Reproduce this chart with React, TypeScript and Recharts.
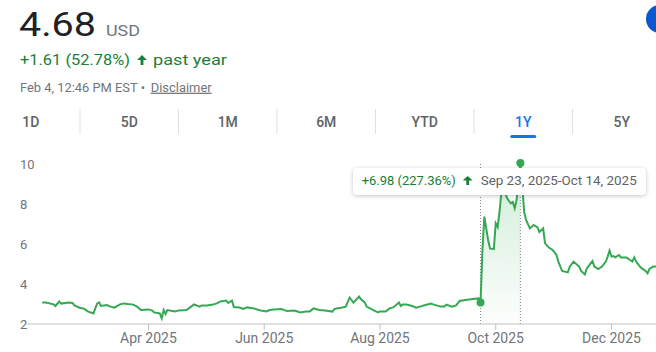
import React from "react";
import {
  ComposedChart,
  Line,
  Area,
  XAxis,
  YAxis,
  ReferenceLine,
  ReferenceDot,
} from "recharts";

// daily closes
const dates = [
  "2025-02-04", "2025-02-06", "2025-02-10", "2025-02-11", "2025-02-13", "2025-02-14",
  "2025-02-18", "2025-02-20", "2025-02-21", "2025-02-24", "2025-02-26", "2025-02-28",
  "2025-03-03", "2025-03-04", "2025-03-05", "2025-03-06", "2025-03-07", "2025-03-10",
  "2025-03-12", "2025-03-14", "2025-03-17", "2025-03-19", "2025-03-21", "2025-03-24",
  "2025-03-26", "2025-03-28", "2025-04-01", "2025-04-03", "2025-04-04", "2025-04-07",
  "2025-04-08", "2025-04-09", "2025-04-10", "2025-04-11", "2025-04-15", "2025-04-17",
  "2025-04-21", "2025-04-23", "2025-04-25", "2025-04-28", "2025-04-29", "2025-05-02",
  "2025-05-05", "2025-05-07", "2025-05-09", "2025-05-12", "2025-05-13", "2025-05-15",
  "2025-05-16", "2025-05-19", "2025-05-21", "2025-05-23", "2025-05-27", "2025-05-29",
  "2025-06-02", "2025-06-04", "2025-06-06", "2025-06-10", "2025-06-12", "2025-06-13",
  "2025-06-17", "2025-06-20", "2025-06-23", "2025-06-25", "2025-06-27", "2025-06-30",
  "2025-07-03", "2025-07-07", "2025-07-08", "2025-07-09", "2025-07-11", "2025-07-14",
  "2025-07-16", "2025-07-17", "2025-07-18", "2025-07-21", "2025-07-22", "2025-07-24",
  "2025-07-25", "2025-07-29", "2025-07-31", "2025-08-01", "2025-08-04", "2025-08-06",
  "2025-08-08", "2025-08-11", "2025-08-12", "2025-08-13", "2025-08-15", "2025-08-18",
  "2025-08-20", "2025-08-22", "2025-08-25", "2025-08-28", "2025-08-29", "2025-09-02",
  "2025-09-04", "2025-09-05", "2025-09-08", "2025-09-10", "2025-09-12", "2025-09-15",
  "2025-09-17", "2025-09-19", "2025-09-22", "2025-09-23", "2025-09-24", "2025-09-25",
  "2025-09-27", "2025-09-28", "2025-09-30", "2025-10-01", "2025-10-02", "2025-10-03",
  "2025-10-04", "2025-10-05", "2025-10-06", "2025-10-07", "2025-10-08", "2025-10-09",
  "2025-10-10", "2025-10-11", "2025-10-12", "2025-10-13", "2025-10-14", "2025-10-15",
  "2025-10-16", "2025-10-17", "2025-10-19", "2025-10-21", "2025-10-23", "2025-10-24",
  "2025-10-26", "2025-10-27", "2025-10-29", "2025-10-31", "2025-11-02", "2025-11-03",
  "2025-11-05", "2025-11-08", "2025-11-09", "2025-11-11", "2025-11-13", "2025-11-14",
  "2025-11-15", "2025-11-17", "2025-11-18", "2025-11-20", "2025-11-21", "2025-11-22",
  "2025-11-24", "2025-11-26", "2025-11-28", "2025-11-29", "2025-11-30", "2025-12-01",
  "2025-12-02", "2025-12-03", "2025-12-05", "2025-12-06", "2025-12-09", "2025-12-10",
  "2025-12-12", "2025-12-13", "2025-12-14", "2025-12-16", "2025-12-17", "2025-12-19",
  "2025-12-20", "2025-12-21", "2025-12-23", "2025-12-24", "2026-02-04",
];

const prices = [
  3.07, 3.07, 2.98, 2.9, 3.12, 3.02,
  3.08, 3.05, 2.93, 2.8, 2.77, 2.63,
  2.53, 2.78, 3.03, 3.08, 2.9, 2.95,
  2.87, 2.82, 2.98, 3.03, 3.0, 2.97,
  2.87, 2.7, 2.73, 2.67, 2.58, 2.53,
  2.28, 2.7, 2.5, 2.7, 2.63, 2.68,
  2.7, 2.83, 2.98, 2.87, 2.93, 2.92,
  2.97, 3.03, 3.13, 3.17, 3.05, 3.17,
  2.85, 2.82, 2.75, 2.83, 2.77, 2.7,
  2.63, 2.7, 2.73, 2.75, 2.68, 2.65,
  2.67, 2.58, 2.62, 2.63, 2.78, 2.7,
  2.67, 2.62, 2.75, 2.78, 2.8, 2.87,
  3.32, 3.2, 3.07, 3.37, 3.23, 3.08,
  2.87, 2.67, 2.58, 2.63, 2.62, 2.78,
  2.83, 3.07, 2.9, 2.98, 2.97, 2.9,
  2.82, 2.87, 2.95, 3.02, 2.98, 2.87,
  2.87, 2.97, 2.87, 2.92, 3.15, 3.2,
  3.23, 3.25, 3.28, 3.07, 5.7, 7.37,
  6.2, 5.78, 5.75, 7.03, 6.85, 7.6,
  8.6, 9.4, 8.53, 8.3, 8.15, 8.03,
  8.1, 7.78, 8.2, 9.2, 10.05, 8.9,
  7.6, 7.2, 6.78, 6.95, 6.83, 6.6,
  6.78, 6.03, 5.82, 5.7, 5.45, 5.12,
  4.65, 4.58, 4.87, 5.12, 4.95, 4.87,
  4.65, 4.48, 4.78, 5.03, 5.15, 4.87,
  4.75, 4.87, 5.12, 5.37, 5.67, 5.37,
  5.4, 5.33, 5.45, 5.33, 5.32, 5.25,
  5.12, 5.33, 5.12, 4.87, 4.78, 4.65,
  4.53, 4.75, 4.87, 4.87, 4.68,
];

const xDomainDates = ["2025-01-27", "2026-02-12"];
const xTickDates = ["2025-04-01", "2025-06-01", "2025-08-01", "2025-10-01", "2025-12-01"];
const xTickLabels = ["Apr 2025", "Jun 2025", "Aug 2025", "Oct 2025", "Dec 2025"];
const yTicks = [2, 4, 6, 8, 10];

const rangeStart = "2025-09-23";
const rangeEnd = "2025-10-14";

const tabs = ["1D", "5D", "1M", "6M", "YTD", "1Y", "5Y"];
const activeTab = "1Y";

const yearChange = "+1.61 (52.78%)";
const timestamp = "Feb 4, 12:46 PM EST •";

const GREEN = "#34a853";
const TEXT_GREEN = "#188038";
const GREY = "#70757a";
const BLUE = "#1a73e8";
const MONTHS = ["Jan", "Feb", "Mar", "Apr", "May", "Jun", "Jul", "Aug", "Sep", "Oct", "Nov", "Dec"];

const ts = (s: string) => Date.parse(s);
const fmtDate = (s: string) => {
  const d = new Date(ts(s));
  return `${MONTHS[d.getUTCMonth()]} ${d.getUTCDate()}, ${d.getUTCFullYear()}`;
};

const data = dates.map((d, i) => ({
  t: ts(d),
  price: prices[i],
  sel: ts(d) >= ts(rangeStart) && ts(d) <= ts(rangeEnd) ? prices[i] : null,
}));

const startPrice = prices[dates.indexOf(rangeStart)];
const endPrice = prices[dates.indexOf(rangeEnd)];
const diff = endPrice - startPrice;
const diffLabel = `+${diff.toFixed(2)} (${((diff / startPrice) * 100).toFixed(2)}%)`;
const rangeLabel = `${fmtDate(rangeStart)}-${fmtDate(rangeEnd)}`;
const lastPrice = prices[prices.length - 1].toFixed(2);

const ARROW = "M5 0 L10 5 L6.4 5 L6.4 10 L3.6 10 L3.6 5 L0 5 Z";
const FIT = "spacingAndGlyphs";

const YTick = (props: any) => (
  <text x={20} y={props.y} dy="0.355em" fill={GREY} fontSize={13} fontFamily="Roboto">
    {props.payload.value}
  </text>
);

export default function App() {
  const tabW = 98.5;
  const tab0 = -18.5;
  return (
    <div
      style={{
        position: "fixed",
        left: 0,
        top: 0,
        width: 656,
        height: 352,
        overflow: "hidden",
        background: "#fff",
        fontFamily: "Roboto, sans-serif",
      }}
    >
      <div style={{ position: "absolute", left: 0, top: 150 }}>
        <ComposedChart
          width={750}
          height={202}
          data={data}
          margin={{ top: 13, right: 0, bottom: 0, left: 0 }}
        >
          <defs>
            <linearGradient id="selFill" x1="0" y1="0" x2="0" y2="1">
              <stop offset="0%" stopColor={GREEN} stopOpacity={0.38} />
              <stop offset="100%" stopColor={GREEN} stopOpacity={0.02} />
            </linearGradient>
          </defs>
          <XAxis
            dataKey="t"
            type="number"
            domain={xDomainDates.map(ts)}
            ticks={xTickDates.map(ts)}
            tickFormatter={(v) => xTickLabels[xTickDates.map(ts).indexOf(v)]}
            interval={0}
            height={28}
            tickSize={6}
            tickMargin={3}
            axisLine={{ stroke: "#bdc1c6" }}
            tickLine={{ stroke: "#bdc1c6" }}
            tick={{ fill: GREY, fontSize: 14, fontFamily: "Roboto" }}
          />
          <YAxis
            type="number"
            domain={[2, "dataMax"]}
            ticks={yTicks}
            width={27}
            axisLine={false}
            tickLine={false}
            tick={<YTick />}
          />
          <Area
            type="linear"
            dataKey="sel"
            stroke="none"
            fill="url(#selFill)"
            connectNulls={false}
            dot={false}
            activeDot={false}
            isAnimationActive={false}
          />
          <ReferenceLine x={ts(rangeStart)} stroke="#80868b" strokeDasharray="1 2" />
          <ReferenceLine x={ts(rangeEnd)} stroke="#80868b" strokeDasharray="1 2" />
          <Line
            type="linear"
            dataKey="price"
            stroke={GREEN}
            strokeWidth={2}
            dot={false}
            activeDot={false}
            isAnimationActive={false}
          />
          <ReferenceDot x={ts(rangeStart)} y={startPrice} r={4} fill={GREEN} stroke="none" ifOverflow="visible" />
          <ReferenceDot x={ts(rangeEnd)} y={endPrice} r={4} fill={GREEN} stroke="none" ifOverflow="visible" />
        </ComposedChart>
      </div>

      <svg
        width={656}
        height={352}
        style={{ position: "absolute", left: 0, top: 0, pointerEvents: "none" }}
        fontFamily="Roboto"
      >
        <text x={19} y={36} fontSize={33} fill="#202124" textLength={77} lengthAdjust={FIT}>
          {lastPrice}
        </text>
        <text x={106} y={36} fontSize={14} fill={GREY} textLength={34} lengthAdjust={FIT}>
          USD
        </text>
        <text x={20} y={65} fontSize={15.5} fill={TEXT_GREEN} textLength={110} lengthAdjust={FIT}>
          {yearChange}
        </text>
        <path d={ARROW} fill={TEXT_GREEN} transform="translate(137 55)" />
        <text x={153} y={65} fontSize={15.5} fill={TEXT_GREEN} textLength={74} lengthAdjust={FIT}>
          past year
        </text>
        <text x={20} y={91.7} fontSize={12.5} fill={GREY} textLength={125} lengthAdjust={FIT}>
          {timestamp}
        </text>
        <text
          x={150.7}
          y={91.7}
          fontSize={12.5}
          fill={GREY}
          textLength={61}
          lengthAdjust={FIT}
          textDecoration="underline"
        >
          Disclaimer
        </text>
        <circle cx={660} cy={19} r={14} fill="#0b57d0" />

        {tabs.map((tb, i) => {
          const cx = tab0 + tabW * (i + 0.5);
          const active = tb === activeTab;
          return (
            <g key={tb}>
              {i > 0 && (
                <line x1={tab0 + tabW * i} x2={tab0 + tabW * i} y1={109} y2={134} stroke="#e0e0e0" />
              )}
              <text
                x={cx}
                y={127}
                textAnchor="middle"
                fontSize={14}
                fontWeight={500}
                fill={active ? BLUE : "#5f6368"}
              >
                {tb}
              </text>
              {active && <rect x={cx - 13} y={135} width={26} height={3} rx={1.5} fill={BLUE} />}
            </g>
          );
        })}

        <rect
          x={353}
          y={168}
          width={293}
          height={27}
          rx={4}
          fill="#fff"
          style={{ filter: "drop-shadow(0 1px 2px rgba(60,64,67,0.3))" }}
        />
        <text x={361.7} y={185} fontSize={13} fill={TEXT_GREEN} textLength={94} lengthAdjust={FIT}>
          {diffLabel}
        </text>
        <path d={ARROW} fill={TEXT_GREEN} transform="translate(462.7 176) scale(1 0.9)" />
        <text x={480.7} y={185} fontSize={13.4} fill="#5f6368" textLength={156} lengthAdjust={FIT}>
          {rangeLabel}
        </text>
      </svg>
    </div>
  );
}
